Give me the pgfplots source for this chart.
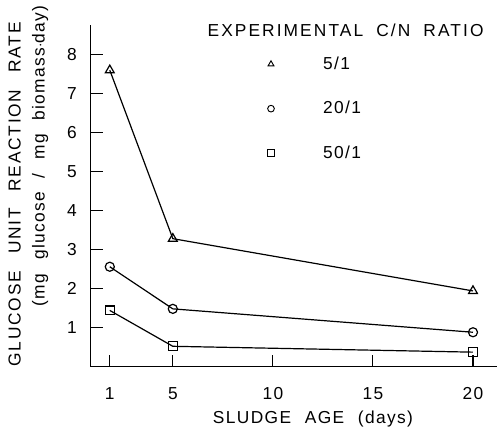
\documentclass[border=0pt]{standalone}
\usepackage{pgfplots}
\pgfplotsset{compat=1.18}
\usepackage{fontspec}
\setmainfont{Liberation Sans}[LetterSpace=8, WordSpace=2.2]
\newfontfamily\ylabfont{Liberation Sans}[LetterSpace=10, WordSpace=2.6]
\newfontfamily\titlefont{Liberation Sans}[LetterSpace=12, WordSpace=1.9]
\begin{document}
\fontsize{13}{15}\selectfont
\begin{tikzpicture}
\begin{axis}[
  name=ax,
  scale only axis, width=304.5pt, height=255.75pt,
  axis x line=bottom, axis y line=left,
  axis line style={-, line width=0.8pt},
  xmin=-0.21, xmax=21.2, ymin=0, ymax=8.75,
  x coord trafo/.code={\pgfmathparse{#1<5 ? 5-(5-#1)*0.7875 : #1}},
  xtick={1,5,10,15,20}, xticklabels={1,5,10,15,20},
  ytick={1,2,3,4,5,6,7,8},
  tick align=inside, major tick length=9pt,
  tick style={line width=0.8pt, black},
  /pgf/number format/assume math mode=true,
  ticklabel style={font=\fontsize{13}{15}\selectfont},
  yticklabel style={xshift=-6pt},
  xticklabel style={yshift=-11pt},
  xlabel={SLUDGE AGE (days)},
  xlabel style={at={(axis description cs:0.547,0)}, anchor=center, yshift=-39pt},
  ylabel={\ylabfont GLUCOSE UNIT REACTION RATE},
  ylabel style={at={(axis description cs:-0.187,0.505)}, anchor=center},
  legend style={draw=none, fill=none, at={(axis description cs:0.425,0.925)}, anchor=north west,
    row sep=18pt, font=\fontsize{13}{15}\selectfont},
  legend cell align=left,
  legend image code/.code={\path[draw=none] (0,0) (1.3cm,0); \draw[#1, only marks, mark size=2.5pt, line width=0.7pt] plot coordinates {(0,0)};},
  every axis plot/.append style={black, line width=0.9pt, mark options={solid, fill=white}},
]
\addplot[mark=triangle, mark size=3.8pt] coordinates {(1,7.6) (5,3.28) (20,1.94)};
\addlegendentry{5/1}
\addplot[mark=o, mark size=3.4pt] coordinates {(1,2.56) (5,1.48) (20,0.88)};
\addlegendentry{20/1}
\addplot[mark=square, mark size=3.3pt] coordinates {(1,1.44) (5,0.52) (20,0.37)};
\addlegendentry{50/1}
\end{axis}
\path (ax.south west) ++(-38pt,158pt) node[rotate=90, anchor=center] {(mg glucose / mg biomass$\cdot$day)};
\path (ax.south west) ++(191pt,252pt) node[anchor=center] {\titlefont EXPERIMENTAL C/N RATIO};
\pgfresetboundingbox
\path ([shift={(-68pt,-49pt)}]ax.south west) rectangle ([shift={(0pt,19pt)}]ax.north east);
\end{tikzpicture}
\end{document}
